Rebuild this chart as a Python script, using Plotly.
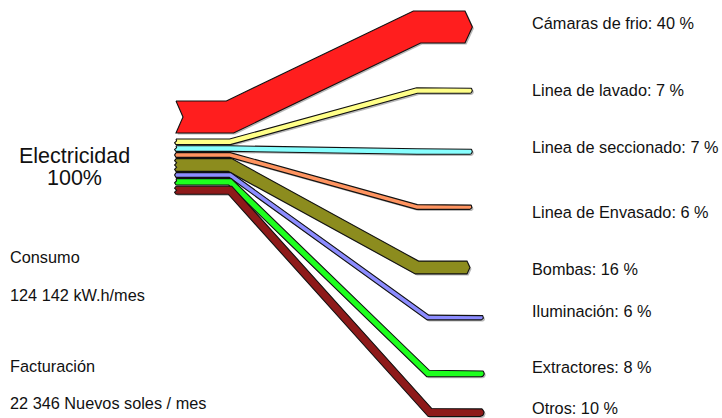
import numpy as np
import plotly.graph_objects as go

# Electricity use breakdown (share of total consumption, %)
CATEGORIES = [
    "Cámaras de frio",
    "Linea de lavado",
    "Linea de seccionado",
    "Linea de Envasado",
    "Bombas",
    "Iluminación",
    "Extractores",
    "Otros",
]
PERCENT = [40, 7, 7, 6, 16, 6, 8, 10]
COLORS = ["#ff1e1e", "#ffff88", "#88ffff", "#ff9460", "#8c8c1e",
          "#8c8cff", "#1eff1e", "#8e1a1a"]

SOURCE_TITLE = ["Electricidad", "100%"]
SIDE_NOTES = ["Consumo", "124 142 kW.h/mes", "Facturación",
              "22 346 Nuevos soles / mes"]

# ---- drawing layout (pixel space of the page) ----
W, H = 722, 418
PX_PER_PCT = 0.8          # band thickness per percentage point
X_START = 176             # left edge of the source stack
X_BEND_LEFT = 230         # where the bands leave the stack
Y_STACK_TOP = 101
GAP_AFTER_FIRST = 6
GAP = 1.2
RIGHT_Y = [27, 90.5, 151.5, 207, 267.5, 317.5, 373.5, 412.5]   # band end rows
BEND_X_RIGHT = [417, 417, 417, 417, 417, 428, 428, 430]
END_X = [465, 469.5, 469.5, 469.5, 467, 481, 481, 480]
LABEL_X = 530
LABEL_Y = [23, 90, 147, 212, 269, 311, 367, 408]
FONT = "Liberation Sans, Arial, sans-serif"


def offsets(pts):
    """Unit offsets (miter joins) perpendicular to a polyline, pointing up."""
    d = np.diff(pts, axis=0)
    d = d / np.linalg.norm(d, axis=1, keepdims=True)
    n = np.column_stack([d[:, 1], -d[:, 0]])
    off = np.zeros_like(pts)
    off[0] = n[0]
    off[-1] = n[-1]
    for i in range(1, len(pts) - 1):
        m = n[i - 1] + n[i]
        m = m / np.linalg.norm(m)
        off[i] = m / np.dot(m, n[i])
    return off


def band_polygon(y_left, y_right, bend_x, end_x, thick, wide):
    pts = np.array([[X_START, y_left], [X_BEND_LEFT, y_left],
                    [bend_x, y_right], [end_x, y_right]], dtype=float)
    h = thick / 2.0
    off = offsets(pts)
    top = pts + off * h
    bot = pts - off * h
    xs, ys = list(top[:, 0]), list(top[:, 1])
    if wide:
        # pointed arrow head on the right
        xs += [end_x + 0.23 * thick]
        ys += [y_right]
    else:
        # rounded end on the right
        th = np.linspace(-np.pi / 2, np.pi / 2, 15)[1:-1]
        xs += list(end_x + h * np.cos(th))
        ys += list(y_right + h * np.sin(th))
    xs += list(bot[::-1, 0])
    ys += list(bot[::-1, 1])
    if thick > 25:
        # notched tail on the left
        xs += [X_START + 7]
        ys += [y_left]
    else:
        # torn left edge
        n_teeth = max(2, int(round(thick / 2.2)))
        yy = np.linspace(y_left + h, y_left - h, n_teeth + 1)[1:-1]
        for k, yv in enumerate(yy):
            xs.append(X_START - 1.4 if k % 2 == 0 else X_START + 0.6)
            ys.append(yv)
    xs.append(xs[0])
    ys.append(ys[0])
    return np.array(xs), np.array(ys)


# stack the bands on the left side
thickness = [p * PX_PER_PCT for p in PERCENT]
y_left = []
y = Y_STACK_TOP
for i, t in enumerate(thickness):
    y_left.append(y + t / 2)
    y += t + (GAP_AFTER_FIRST if i == 0 else GAP)

polys = []
for i, t in enumerate(thickness):
    polys.append(band_polygon(y_left[i], RIGHT_Y[i], BEND_X_RIGHT[i],
                              END_X[i], t, wide=t > 10))

fig = go.Figure()

# soft drop shadows
for xs, ys in polys:
    fig.add_trace(go.Scatter(x=xs + 1.6, y=ys + 1.6, mode="lines",
                             fill="toself", fillcolor="rgba(0,0,0,0.28)",
                             line=dict(width=0), hoverinfo="skip",
                             showlegend=False))

# the flow bands
for (xs, ys), col, cat in zip(polys, COLORS, CATEGORIES):
    fig.add_trace(go.Scatter(x=xs, y=ys, mode="lines", fill="toself",
                             fillcolor=col, line=dict(color="#111111", width=1.1),
                             name=cat, hoverinfo="skip", showlegend=False))

# labels of the destinations
for cat, pct, ly in zip(CATEGORIES, PERCENT, LABEL_Y):
    fig.add_annotation(x=LABEL_X, y=ly, text=f"{cat}: {pct} %",
                       showarrow=False, xanchor="left", yanchor="middle",
                       font=dict(family=FONT, size=16.3, color="#111111"))

# source label
fig.add_annotation(x=74, y=156, text=SOURCE_TITLE[0], showarrow=False,
                   xanchor="center", yanchor="middle",
                   font=dict(family=FONT, size=21.5, color="#111111"))
fig.add_annotation(x=74, y=178, text=SOURCE_TITLE[1], showarrow=False,
                   xanchor="center", yanchor="middle",
                   font=dict(family=FONT, size=21.5, color="#111111"))

# consumption and billing notes
for txt, ny in zip(SIDE_NOTES, [257, 295, 366, 403]):
    fig.add_annotation(x=8, y=ny, text=txt, showarrow=False,
                       xanchor="left", yanchor="middle",
                       font=dict(family=FONT, size=16.3, color="#111111"))

fig.update_xaxes(range=[0, W], visible=False, fixedrange=True)
fig.update_yaxes(range=[H, 0], visible=False, fixedrange=True)
fig.update_layout(width=W, height=H, autosize=False,
                  margin=dict(l=0, r=0, t=0, b=0),
                  plot_bgcolor="white", paper_bgcolor="white")

fig.write_html("out.html", config={"displayModeBar": False})
